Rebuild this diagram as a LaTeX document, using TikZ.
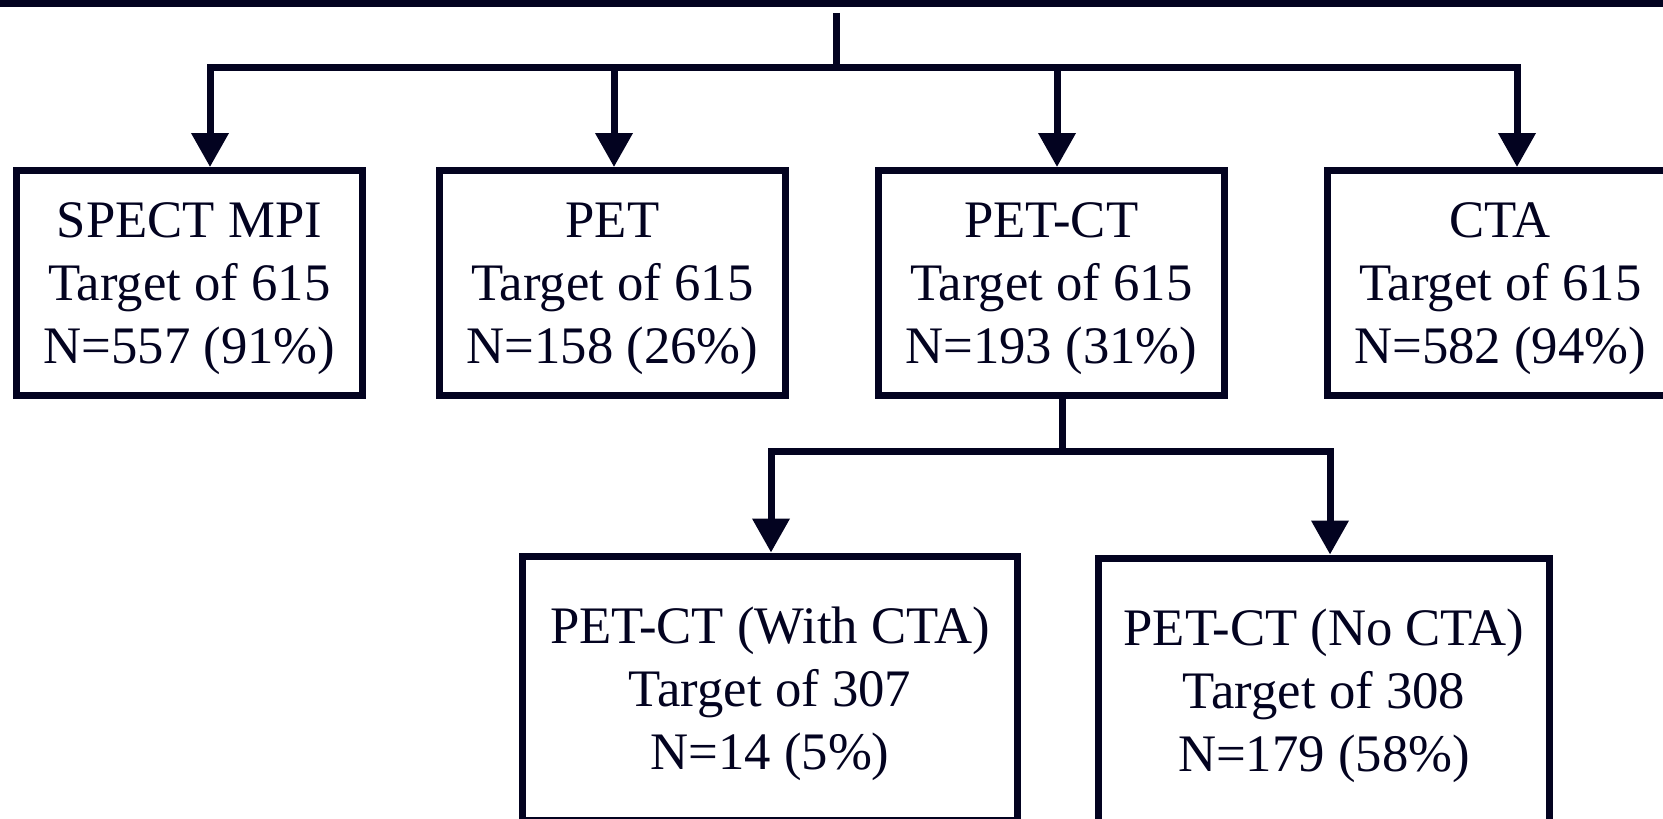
\documentclass[tikz,border=0pt]{standalone}
\usepackage{fontspec}
\setmainfont{Liberation Serif}
\usetikzlibrary{arrows.meta,positioning}
\definecolor{navy}{RGB}{3,3,32}

\begin{document}
\begin{tikzpicture}[
    x=0.02cm, y=-0.02cm,
    node distance=1.4cm,
    box/.style={rectangle, draw=navy, line width=0.14cm, minimum width=6.92cm, minimum height=4.5cm, text=navy, align=center, inner sep=0pt, font=\fontsize{30}{35.8}\selectfont},
    toprow/.style={box, text depth=-0.14cm},
    wide/.style={box, minimum height=5.3cm, text depth=-0.06cm},
    link/.style={draw=navy, line width=0.14cm},
    arrow/.style={link, -{Triangle[width=0.72cm, length=0.68cm]}}
]
\useasboundingbox (0,0) rectangle (1663,818);

\node[box, minimum width=36cm, minimum height=4cm] (enrolled) at (831.5,-96.5) {};

\node[toprow] (spect) at (189.5,283) {SPECT MPI\\Target of 615\\N=557 (91\%)};
\node[toprow, right=of spect] (pet) {PET\\Target of 615\\N=158 (26\%)};
\node[toprow, right=1.72cm of pet] (petct) {PET-CT\\Target of 615\\N=193 (31\%)};
\node[toprow, right=1.92cm of petct] (cta) {CTA\\Target of 615\\N=582 (94\%)};

\node[wide, minimum width=9.9cm] (withcta) at (770,688.5) {PET-CT (With CTA)\\Target of 307\\N=14 (5\%)};
\node[wide, minimum width=9.02cm] (nocta) at (1324,690.5) {PET-CT (No CTA)\\Target of 308\\N=179 (58\%)};

\coordinate (split1) at (836,67.5);
\coordinate (b1) at (210,67.5);
\coordinate (b2) at (614,67.5);
\coordinate (b3) at (1057,67.5);
\coordinate (b4) at (1517,67.5);

\coordinate (split2) at (1062,451.5);
\coordinate (b5) at (771,451.5);
\coordinate (b6) at (1330,451.5);

\draw[link, shorten <=0.12cm] (split1 |- enrolled.south) -- (split1);
\draw[link, line cap=rect] (b1) -- (b4);
\draw[arrow] (b1) -- (b1 |- spect.north);
\draw[arrow] (b2) -- (b2 |- pet.north);
\draw[arrow] (b3) -- (b3 |- petct.north);
\draw[arrow] (b4) -- (b4 |- cta.north);

\draw[link] (split2 |- petct.south) -- (split2);
\draw[link, line cap=rect] (b5) -- (b6);
\draw[arrow] (b5) -- (b5 |- withcta.north);
\draw[arrow] (b6) -- (b6 |- nocta.north);

\end{tikzpicture}
\end{document}
